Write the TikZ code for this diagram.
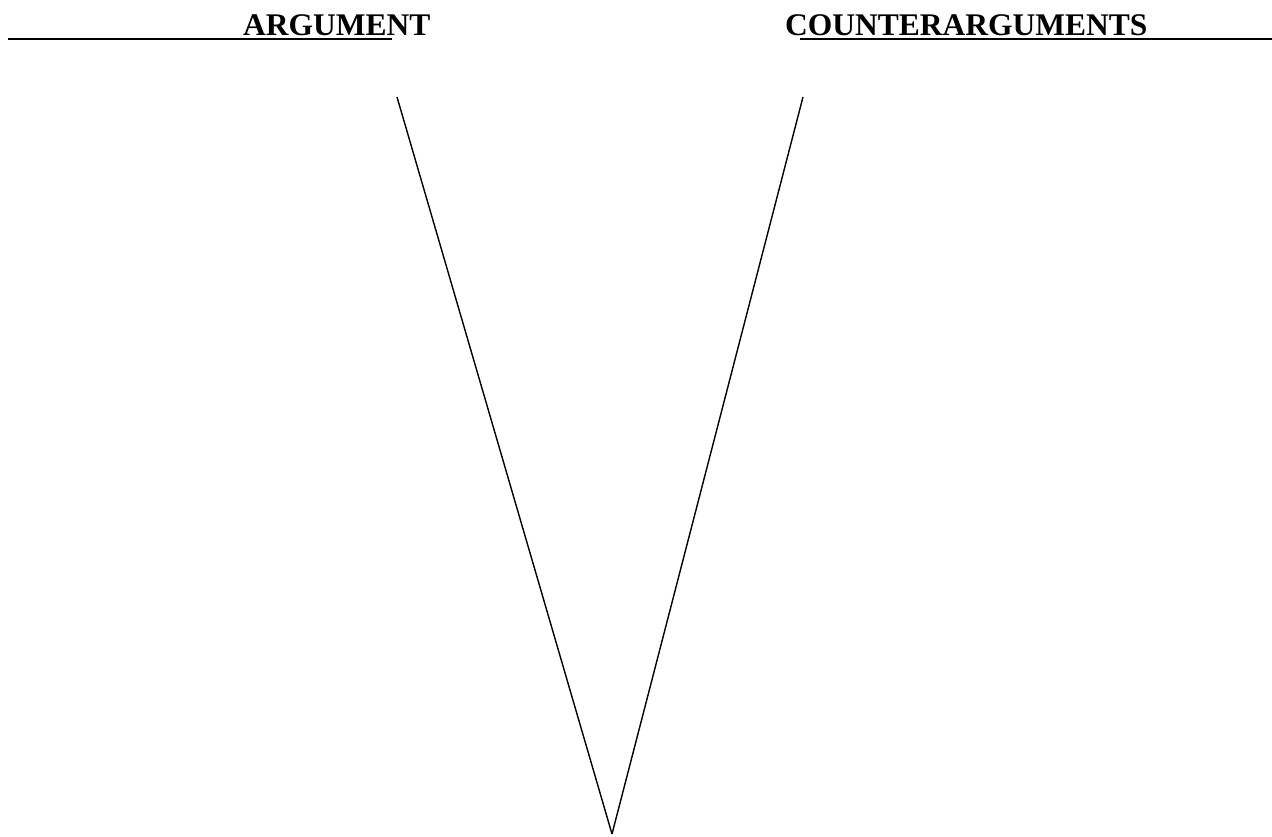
\documentclass[tikz,border=0pt]{standalone}
\usepackage{fontspec}
\setmainfont{Liberation Serif}
\newcommand{\titre}[0]{\fontsize{31.5}{38}\selectfont\bfseries}
\newcommand{\souligne}[2]{\draw[line width=1.8pt] (#1) -- (#2)}
\newcommand{\branche}[2]{\draw[line width=1.4pt] (#1) -- (#2)}

\begin{document}
\begin{tikzpicture}[x=1pt,y=-1pt]
	\useasboundingbox (0,0) rectangle (1272,837);
	\node[anchor=base west,inner sep=0] (arg) at (243,35.5) {\titre ARGUMENT};
	\node[anchor=base west,inner sep=0] (contre) at (785,35.5) {\titre COUNTERARGUMENTS};
	\coordinate (ga) at (8,39);
	\coordinate (gb) at (392,39);
	\coordinate (da) at (800,39);
	\coordinate (db) at (1272,39);
	\souligne{ga}{gb};
	\souligne{da}{db};
	\coordinate (hautg) at (397,97);
	\coordinate (hautd) at (803,97);
	\coordinate (pointe) at (612,834);
	\branche{hautg}{pointe};
	\branche{hautd}{pointe};
\end{tikzpicture}
\end{document}
